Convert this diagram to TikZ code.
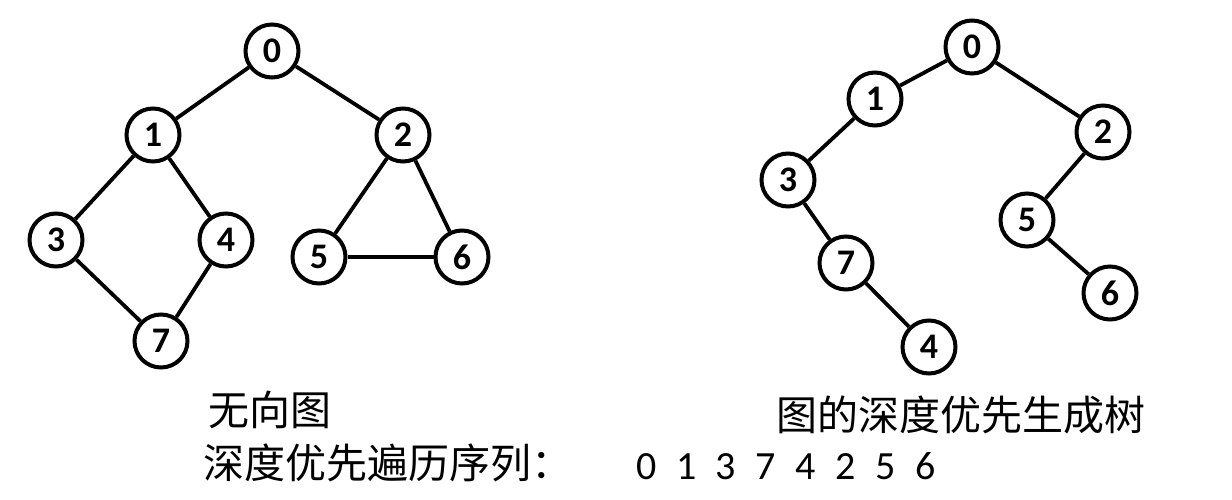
\documentclass[tikz,border=0pt]{standalone}
\usepackage{fontspec}
\setmainfont{Carlito}
\newfontfamily\cjk{Noto Sans CJK SC}
\begin{document}
\begin{tikzpicture}[x=1pt,y=-1pt,
  vtx/.style={circle,draw,line width=4pt,minimum size=53pt,inner sep=0pt,
              font=\fontsize{36}{37}\selectfont\bfseries},
  edge/.style={line width=3.8pt},
  captext/.style={font=\cjk\fontsize{41}{44}\selectfont,inner sep=0pt}]
\useasboundingbox[fill=white] (0,0) rectangle (1232,500);
% left: undirected graph
\node[vtx] (L0) at (272,51) {0};
\node[vtx] (L1) at (153,135) {1};
\node[vtx] (L2) at (403,135) {2};
\node[vtx] (L3) at (56,240) {3};
\node[vtx] (L4) at (226,240) {4};
\node[vtx] (L5) at (319,257) {5};
\node[vtx] (L6) at (462,257) {6};
\node[vtx] (L7) at (161,341) {7};
\draw[edge] (L0) -- (L1);
\draw[edge] (L0) -- (L2);
\draw[edge] (L1) -- (L3);
\draw[edge] (L1) -- (L4);
\draw[edge] (L3) -- (L7);
\draw[edge] (L4) -- (L7);
\draw[edge] (L2) -- (L5);
\draw[edge] (L2) -- (L6);
\draw[edge] (L5) -- (L6);
% right: DFS spanning tree
\node[vtx] (R0) at (972,47) {0};
\node[vtx] (R1) at (875,99) {1};
\node[vtx] (R2) at (1103,132) {2};
\node[vtx] (R3) at (788,180) {3};
\node[vtx] (R5) at (1027,220) {5};
\node[vtx] (R7) at (846,263) {7};
\node[vtx] (R6) at (1110,293) {6};
\node[vtx] (R4) at (929,347) {4};
\draw[edge] (R0) -- (R1);
\draw[edge] (R1) -- (R3);
\draw[edge] (R3) -- (R7);
\draw[edge] (R7) -- (R4);
\draw[edge] (R0) -- (R2);
\draw[edge] (R2) -- (R5);
\draw[edge] (R5) -- (R6);
% captions
\node[captext] (t1) at (270,410) {无向图};
\node[captext,anchor=west] (t2) at (203,463) {深度优先遍历序列：};
\node[captext] (t3) at (961,415) {图的深度优先生成树};
\node[font=\fontsize{40}{42}\selectfont,inner sep=0pt,anchor=west] (seq) at (636,466)
  {{\spaceskip=19.6pt 0 1 3 7 4 2 5 6}};
\end{tikzpicture}
\end{document}
